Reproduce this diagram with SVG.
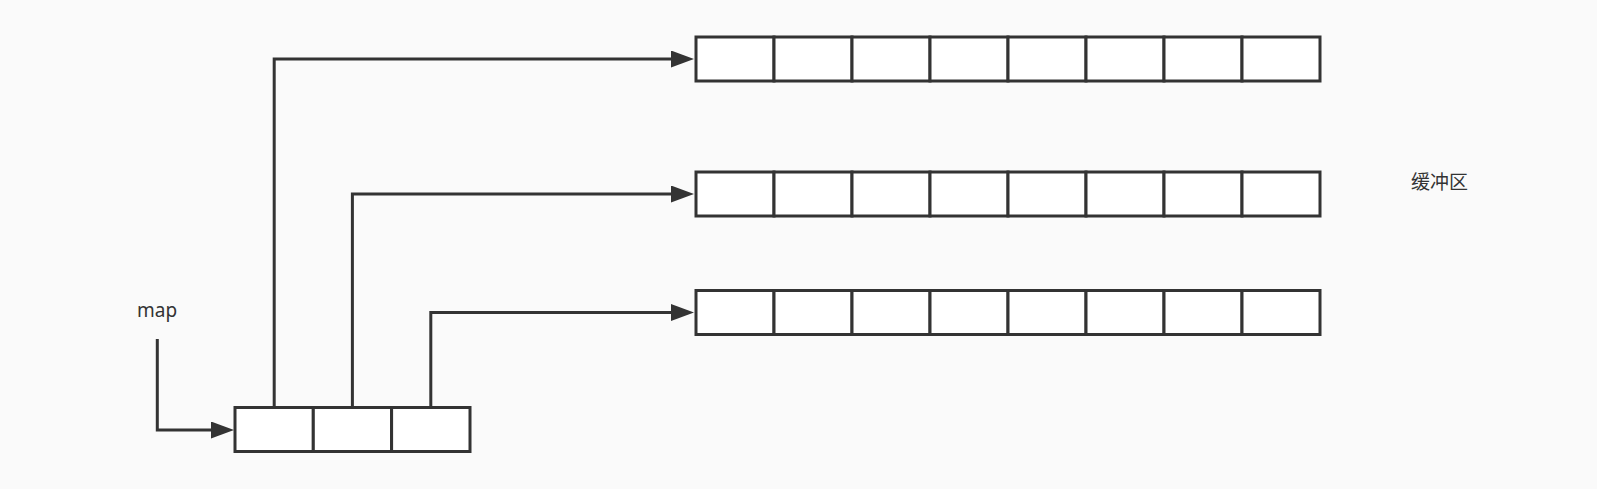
<svg xmlns="http://www.w3.org/2000/svg" width="1597" height="489" viewBox="0 0 1597 489">
<style>
.cell{fill:#ffffff;stroke:#333333;stroke-width:3}
.conn{fill:none;stroke:#333333;stroke-width:3}
.lbl{font-family:"Noto Sans","Noto Sans CJK SC",sans-serif;font-size:19px;fill:#333333}
</style>
<defs>
<marker id="arr" markerUnits="userSpaceOnUse" markerWidth="24" markerHeight="18" refX="1" refY="8.5" orient="auto">
<path d="M0,0 L23,8.5 L0,17 z" fill="#333333"/>
</marker>
</defs>
<rect width="1597" height="489" fill="#fafafa"/>
<g id="buffer1">
<rect class="cell" x="696" y="37" width="78" height="44"/>
<rect class="cell" x="774" y="37" width="78" height="44"/>
<rect class="cell" x="852" y="37" width="78" height="44"/>
<rect class="cell" x="930" y="37" width="78" height="44"/>
<rect class="cell" x="1008" y="37" width="78" height="44"/>
<rect class="cell" x="1086" y="37" width="78" height="44"/>
<rect class="cell" x="1164" y="37" width="78" height="44"/>
<rect class="cell" x="1242" y="37" width="78" height="44"/>
</g>
<g id="buffer2">
<rect class="cell" x="696" y="172" width="78" height="44"/>
<rect class="cell" x="774" y="172" width="78" height="44"/>
<rect class="cell" x="852" y="172" width="78" height="44"/>
<rect class="cell" x="930" y="172" width="78" height="44"/>
<rect class="cell" x="1008" y="172" width="78" height="44"/>
<rect class="cell" x="1086" y="172" width="78" height="44"/>
<rect class="cell" x="1164" y="172" width="78" height="44"/>
<rect class="cell" x="1242" y="172" width="78" height="44"/>
</g>
<g id="buffer3">
<rect class="cell" x="696" y="290.5" width="78" height="44"/>
<rect class="cell" x="774" y="290.5" width="78" height="44"/>
<rect class="cell" x="852" y="290.5" width="78" height="44"/>
<rect class="cell" x="930" y="290.5" width="78" height="44"/>
<rect class="cell" x="1008" y="290.5" width="78" height="44"/>
<rect class="cell" x="1086" y="290.5" width="78" height="44"/>
<rect class="cell" x="1164" y="290.5" width="78" height="44"/>
<rect class="cell" x="1242" y="290.5" width="78" height="44"/>
</g>
<g id="map">
<rect class="cell" x="235" y="407.5" width="78.3" height="44"/>
<rect class="cell" x="313.3" y="407.5" width="78.3" height="44"/>
<rect class="cell" x="391.6" y="407.5" width="78.4" height="44"/>
</g>
<g id="map-label"><text class="lbl" x="137" y="317">map</text></g>
<g id="buffer-label"><text class="lbl" x="1411" y="189">缓冲区</text></g>
<g id="connectors">
<path class="conn" d="M157.3,339 L157.3,430 L212,430" marker-end="url(#arr)"/>
<path class="conn" d="M274.2,407.5 L274.2,59 L672,59" marker-end="url(#arr)"/>
<path class="conn" d="M352.4,407.5 L352.4,194 L672,194" marker-end="url(#arr)"/>
<path class="conn" d="M430.8,407.5 L430.8,312.5 L672,312.5" marker-end="url(#arr)"/>
</g>
</svg>
